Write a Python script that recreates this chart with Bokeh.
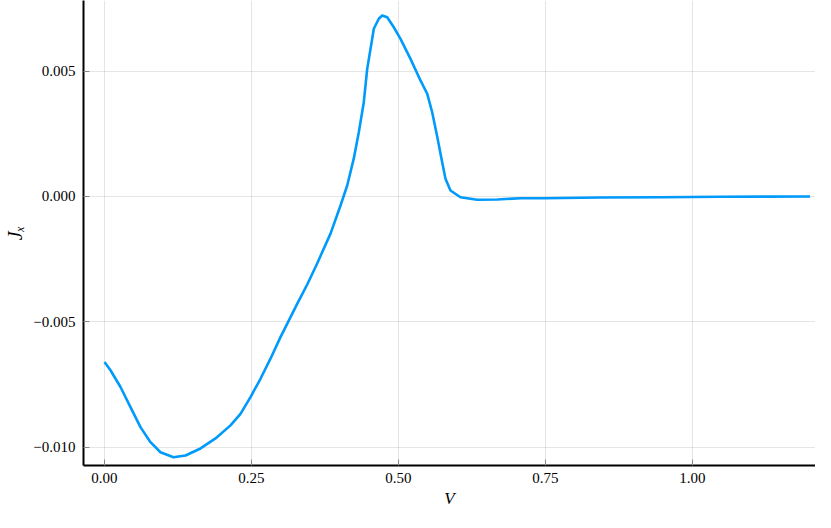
from bokeh.plotting import figure
from bokeh.models import Range1d, FixedTicker
from bokeh.embed import file_html
from bokeh.resources import INLINE

# Data
V = [0.0, 0.0102, 0.0272, 0.0442, 0.0612, 0.0782, 0.0952, 0.1173, 0.1378, 0.1633,
     0.1888, 0.2143, 0.2313, 0.2483, 0.2653, 0.2823, 0.2993, 0.3134, 0.3277, 0.3450,
     0.3617, 0.3844, 0.4014, 0.4128, 0.4240, 0.4325, 0.4410, 0.4468, 0.4553, 0.4580,
     0.4665, 0.4723, 0.4808, 0.4920, 0.5034, 0.5204, 0.5374, 0.5488, 0.5573, 0.5658,
     0.5743, 0.5799, 0.5884, 0.6054, 0.6338, 0.6679, 0.7075, 0.7466, 0.8435, 0.9456,
     1.0476, 1.2]
Jx = [-0.00660, -0.00693, -0.00760, -0.00840, -0.00920, -0.00980, -0.01020, -0.01040, -0.01033, -0.01005,
      -0.00965, -0.00913, -0.00867, -0.00800, -0.00727, -0.00647, -0.00561, -0.00495, -0.00428, -0.00350,
      -0.00267, -0.00148, -0.00036, 0.00044, 0.00152, 0.00256, 0.00376, 0.00509, 0.00629, 0.00669,
      0.00709, 0.00722, 0.00715, 0.00675, 0.00629, 0.00549, 0.00463, 0.00410, 0.00336, 0.00239,
      0.00137, 0.00071, 0.00024, -0.00003, -0.00013, -0.00012, -0.00007, -0.00007, -0.00004, -0.00003,
      -0.00001, 0.0]

x_ticks = [0.0, 0.25, 0.5, 0.75, 1.0]
x_tick_labels = ["0.00", "0.25", "0.50", "0.75", "1.00"]
y_ticks = [-0.010, -0.005, 0.0, 0.005]
y_tick_labels = ["\u22120.010", "\u22120.005", "0.000", "0.005"]
x_label = "V"
y_label = "J\u2093"

FONT = "Liberation Serif"

p = figure(width=815, height=512, output_backend="svg", toolbar_location=None,
           x_range=Range1d(-0.0357, 1.2092), y_range=Range1d(-0.01073, 0.007818),
           min_border_left=83, min_border_right=0, min_border_top=0, min_border_bottom=47)
p.outline_line_color = None
p.background_fill_color = "white"
p.border_fill_color = "white"

p.line(V, Jx, line_color="#009AFA", line_width=2.6, line_join="round")

for ax, ticks, labels in ((p.xaxis[0], x_ticks, x_tick_labels), (p.yaxis[0], y_ticks, y_tick_labels)):
    ax.ticker = FixedTicker(ticks=ticks)
    ax.major_label_overrides = {t: l for t, l in zip(ticks, labels)}
    ax.axis_line_color = "black"
    ax.axis_line_width = 2
    ax.major_tick_in = 6
    ax.major_tick_out = 0
    ax.major_tick_line_color = "#888888"
    ax.major_tick_line_width = 1
    ax.minor_tick_line_color = None
    ax.major_label_text_font = FONT
    ax.major_label_text_font_size = "15px"
    ax.major_label_text_color = "black"
    ax.axis_label_text_font = FONT
    ax.axis_label_text_font_style = "italic"
    ax.axis_label_text_color = "black"

p.xaxis.major_label_standoff = 7
p.yaxis.major_label_standoff = 8
p.xaxis.axis_label = x_label
p.xaxis.axis_label_text_font_size = "17px"
p.xaxis.axis_label_standoff = 3
p.yaxis.axis_label = y_label
p.yaxis.axis_label_text_font_size = "20px"
p.yaxis.axis_label_standoff = 4

for g in (p.xgrid[0], p.ygrid[0]):
    g.grid_line_color = "black"
    g.grid_line_alpha = 0.1
    g.grid_line_width = 1
p.xgrid.ticker = FixedTicker(ticks=x_ticks)
p.ygrid.ticker = FixedTicker(ticks=y_ticks)

open("out.html", "w").write(file_html(p, INLINE))
